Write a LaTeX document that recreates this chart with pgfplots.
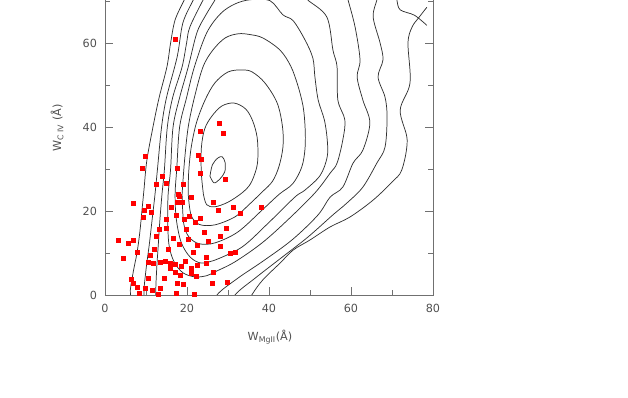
\documentclass[border=0pt]{standalone}
\usepackage{pgfplots}
\pgfplotsset{compat=1.18}
\usepackage{fontspec}
\setmainfont{DejaVu Sans}
\definecolor{axgray}{HTML}{707070}
\definecolor{txtgray}{HTML}{505050}
\definecolor{ctr}{HTML}{303030}

\begin{document}
\begin{tikzpicture}
% page = 628x398 px at 0.75pt/px; the top of the 0..80 frame lies above the page
\path[use as bounding box] (-78.75pt,-77.25pt) rectangle (392.25pt,221.25pt);
\begin{axis}[
  at={(0pt,0pt)}, anchor=south west,
  scale only axis, width=246pt, height=252pt,
  xmin=0, xmax=80, ymin=0, ymax=80,
  xtick={0,20,...,80}, ytick={0,20,40,60},
  minor xtick={10,30,50,70}, minor ytick={10,30,50,70},
  tick align=inside, major tick length=6pt, minor tick length=3.75pt,
  axis line style={axgray, line width=0.7pt},
  tick style={axgray, line width=0.7pt},
  /pgf/number format/assume math mode=true,
  ticklabel style={font=\fontsize{8.4}{10}\selectfont, text=txtgray},
  xticklabel style={yshift=-3pt},
  yticklabel style={xshift=-2.5pt},
  xlabel={W\textsubscript{MgII}(Å)}, ylabel={W\textsubscript{C IV} (Å)},
  label style={font=\fontsize{8.4}{10}\selectfont, text=txtgray},
  xlabel style={at={(axis description cs:0.503,-0.125)}, anchor=center},
  ylabel style={at={(axis description cs:-0.146,0.497)}, anchor=center},
  ctrline/.style={ctr, line width=0.55pt, smooth, tension=0.55, no markers},
]
% density contours, innermost first
\addplot[ctrline] coordinates {(25.6,28.3) (26.2,31.0) (27.5,32.6) (28.6,32.9) (29.3,31.5)
  (29.2,29.3) (28.0,27.6) (26.6,26.7) (25.6,28.3)};
\addplot[ctrline] coordinates {(24.0,24.0) (24.8,21.5) (26.8,21.0) (30.0,22.1) (33.4,24.3)
  (35.5,26.5) (36.9,30.0) (37.3,33.0) (37.1,37.6) (36.0,41.5) (34.3,44.3) (31.5,45.7)
  (28.5,45.0) (26.0,42.5) (24.3,39.5) (23.5,35.0) (23.5,29.0) (24.0,24.0)};
\addplot[ctrline] coordinates {(20.3,24.0) (21.0,19.0) (23.0,16.8) (26.8,16.7) (31.7,18.6)
  (35.0,21.4) (38.3,24.5) (40.8,27.0) (42.4,30.5) (43.4,35.2) (43.3,40.0) (42.0,45.7)
  (39.0,50.5) (35.9,53.1) (33.4,53.6) (30.0,53.1) (26.8,50.5) (24.4,46.4) (22.3,41.0)
  (21.0,35.0) (20.4,29.0) (20.3,24.0)};
\addplot[ctrline] coordinates {(18.8,24.0) (19.2,17.0) (20.5,13.8) (23.0,12.2) (26.8,12.4)
  (32.4,15.0) (38.3,20.2) (42.5,24.0) (45.8,26.5) (48.0,30.5) (48.8,35.0) (48.8,40.0)
  (48.3,45.0) (47.0,50.0) (45.3,54.5) (42.7,58.3) (38.5,61.2) (35.4,62.0) (32.5,62.2)
  (29.3,61.2) (26.3,58.3) (23.9,54.3) (21.8,47.0) (20.3,40.0) (19.4,32.0) (18.8,24.0)};
\addplot[ctrline] coordinates {(26.8,8.3) (23.5,7.6) (20.8,9.0) (18.6,12.5) (17.4,18.0)
  (17.1,24.0) (17.5,30.0) (18.2,40.0) (19.9,47.0) (21.8,54.3) (24.8,62.4) (28.2,67.0)
  (31.7,69.3) (35.4,70.3) (40.2,70.1) (43.4,66.7) (45.9,65.3) (48.8,60.7) (50.7,56.4)
  (51.2,51.9) (52.0,46.4) (53.5,41.7) (54.2,37.0) (54.2,32.9) (52.5,28.5) (48.8,25.0)
  (46.3,23.3) (39.8,17.1) (33.4,11.4) (26.8,8.3)};
\addplot[ctrline] coordinates {(27.5,71.5) (26.8,70.2) (24.5,66.5) (22.4,62.4) (20.3,54.3)
  (18.2,47.0) (16.6,40.0) (16.0,30.0) (15.4,24.0) (15.3,18.0) (15.6,12.0) (16.8,8.0)
  (19.0,5.3) (22.0,4.3) (24.8,4.6) (26.8,5.5) (31.7,7.9) (38.3,12.4) (44.6,17.9)
  (51.2,24.3) (54.9,29.0) (56.6,31.4) (58.0,36.9) (58.5,41.7) (56.8,46.4) (56.6,54.3)
  (55.6,58.3) (54.1,66.2) (49.5,70.2) (48.5,71.5)};
\addplot[ctrline] coordinates {(24.8,71.5) (23.9,70.2) (20.7,63.8) (19.9,60.0) (18.8,54.3)
  (16.5,47.0) (15.2,40.0) (14.5,30.0) (13.9,24.0) (13.4,18.0) (13.0,12.0) (12.6,6.0)
  (12.4,0.0) (13.0,-4.0) (20.0,-6.0) (26.0,-4.0) (27.3,0.0) (32.4,4.0) (38.3,7.9)
  (45.6,13.1) (51.9,19.0) (54.9,23.3) (58.0,25.7) (60.5,31.4) (62.9,34.5) (64.6,41.0)
  (62.9,46.4) (61.5,51.9) (62.2,56.0) (61.0,63.8) (59.3,70.2) (59.0,71.5)};
\addplot[ctrline] coordinates {(22.0,71.5) (21.5,70.2) (19.0,64.8) (17.6,56.7) (15.0,47.0)
  (13.8,40.0) (12.8,30.0) (12.2,24.0) (11.5,18.0) (10.8,12.0) (10.0,6.0) (9.5,0.0)
  (10.5,-4.0) (20.0,-8.0) (30.0,-4.0) (31.7,0.0) (36.6,4.0) (43.2,9.0) (49.5,13.8)
  (55.5,19.0) (59.0,21.9) (62.9,25.7) (66.3,31.4) (68.3,35.2) (68.8,42.4) (68.3,47.1)
  (66.6,51.9) (67.8,56.0) (67.1,60.0) (65.4,66.2) (66.3,70.2) (66.5,71.5)};
\addplot[ctrline] coordinates {(19.8,71.5) (19.3,70.2) (17.1,65.5) (16.0,60.0) (15.1,54.3)
  (13.2,47.0) (11.7,40.0) (10.2,32.0) (9.5,25.0) (9.0,20.0) (8.5,15.0) (7.8,10.0)
  (6.8,5.0) (6.2,0.0) (8.0,-5.0) (20.0,-9.0) (33.0,-5.0) (35.8,0.0) (38.5,3.6)
  (42.7,7.6) (45.9,10.7) (50.0,13.1) (54.9,16.2) (59.8,18.6) (65.4,22.6) (70.0,26.9)
  (72.4,29.8) (73.7,36.9) (72.0,44.0) (74.4,50.5) (73.9,60.0) (74.9,63.8) (76.5,66.0)
  (78.5,68.5)};
\addplot[ctrline] coordinates {(71.0,71.5) (71.2,70.2) (72.0,67.9) (75.5,66.6) (78.5,64.2)};

% absorbers
\addplot[only marks, mark=square*, mark size=1.5pt, mark options={fill=red, draw=red}] coordinates {
 (17.1,61.0) (23.2,39.0) (27.8,41.0) (28.8,38.6) (9.8,33.1) (9.0,30.2) (22.7,33.3)
 (23.4,32.4) (23.2,29.0) (17.6,30.2) (13.9,28.3) (12.4,26.4) (14.9,26.7) (19.0,26.4)
 (29.3,27.6) (17.8,24.0) (6.8,21.9) (10.5,21.2) (9.5,20.2) (11.2,19.8) (9.3,18.6)
 (18.0,23.6) (17.6,22.1) (18.8,22.1) (21.0,23.3) (26.3,22.1) (27.6,20.2) (31.2,21.0)
 (32.9,19.5) (14.9,18.1) (17.3,19.0) (19.3,18.1) (20.5,18.8) (22.0,17.4) (23.2,18.3)
 (13.2,15.7) (14.9,16.0) (3.2,13.1) (5.6,12.4) (6.8,13.1) (7.8,10.2) (4.4,8.8)
 (16.6,13.6) (18.0,12.1) (20.2,13.3) (22.4,11.9) (24.6,9.0) (28.0,14.0) (28.0,11.7)
 (30.5,10.0) (31.7,10.2) (11.0,9.5) (10.5,7.9) (11.7,7.6) (13.4,7.9) (14.6,8.1)
 (15.9,7.6) (17.1,7.4) (18.5,6.9) (19.5,8.1) (21.0,6.4) (22.4,7.1) (15.9,6.4)
 (17.1,5.5) (24.6,7.6) (26.3,5.5) (18.3,4.8) (21.0,5.2) (22.2,4.5) (6.3,3.8)
 (6.8,2.9) (7.8,1.9) (10.5,4.0) (14.4,4.0) (9.8,1.7) (11.5,1.2) (13.4,1.7)
 (17.6,2.9) (19.0,2.6) (8.3,0.5) (12.9,0.2) (17.3,0.5) (21.7,0.2) (26.1,2.9)
 (29.8,3.1) (38.0,21.0) (29.6,15.9) (12.0,11.0) (15.5,10.8) (19.8,15.6) (16.2,21.0)
 (24.2,15.0) (12.6,14.0) (21.5,10.2) (25.3,12.7)};
\end{axis}
\end{tikzpicture}
\end{document}
